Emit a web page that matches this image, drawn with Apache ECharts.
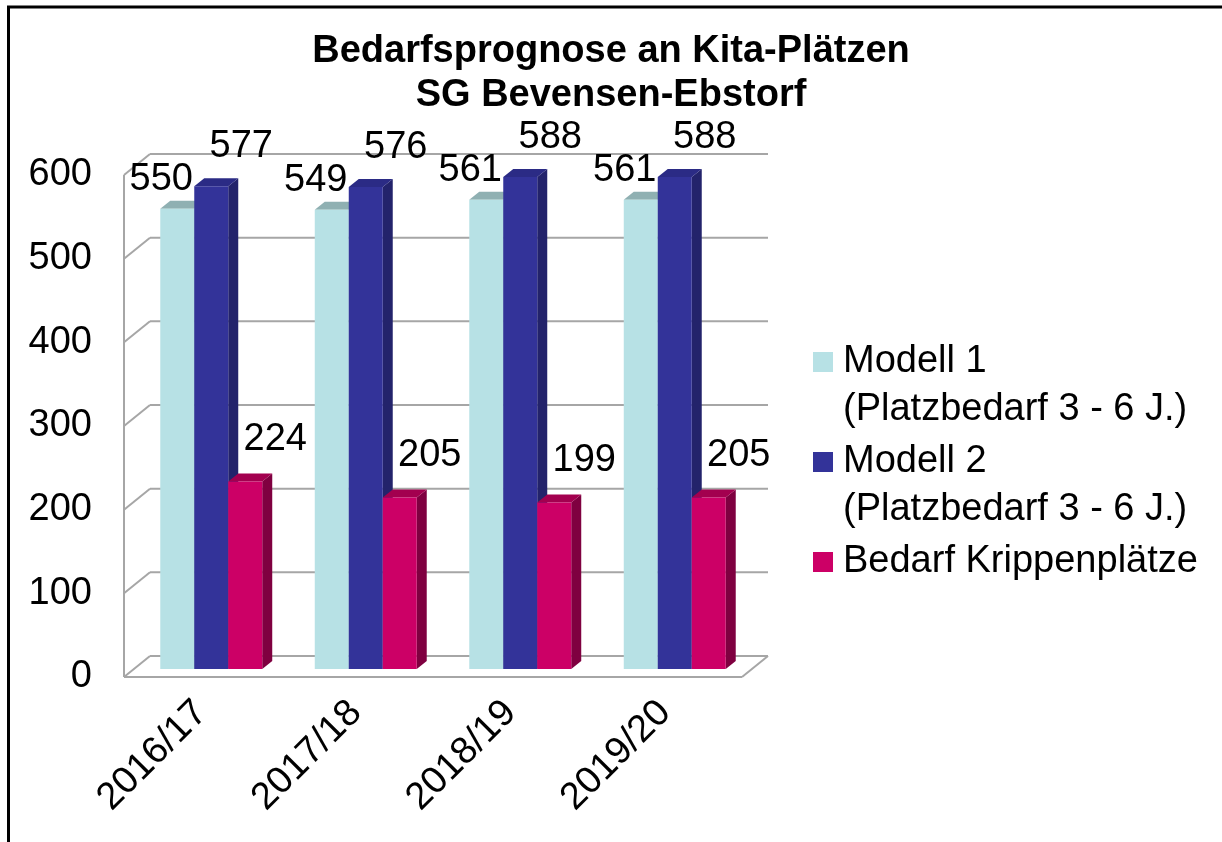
<!DOCTYPE html>
<html>
<head>
<meta charset="utf-8">
<script src="https://cdn.jsdelivr.net/npm/echarts@6/dist/echarts.min.js"></script>
<style>
html,body{margin:0;padding:0;background:#fff}
#chart{width:1222px;height:842px}
</style>
</head>
<body>
<div id="chart"></div>
<script>
var years = ['2016/17', '2017/18', '2018/19', '2019/20'];
var modell1 = [550, 549, 561, 561];
var modell2 = [577, 576, 588, 588];
var krippe = [224, 205, 199, 205];
var yTicks = [0, 100, 200, 300, 400, 500, 600];
var names = ['Modell 1\n(Platzbedarf 3 - 6 J.)', 'Modell 2\n(Platzbedarf 3 - 6 J.)', 'Bedarf Krippenplätze'];

var FONT = '"Liberation Sans", Arial, sans-serif';
// Tiefe der 3D-Box (vorne -> Rückwand) und Tiefe einer Säule
var DX = 26, DY = -21;
var BX = 10, BY = -8;

var colors = [
    {front: '#b7e1e5', top: '#8fb0b2', side: '#8fb0b2', lx: 0, ly: -29},
    {front: '#333399', top: '#2b2b85', side: '#23236b', lx: 1, ly: -40},
    {front: '#cc0066', top: '#a3004f', side: '#7f0040', lx: 1, ly: -42}
];

var chart = echarts.init(document.getElementById('chart'));

function toData(arr) {
    return arr.map(function (v, i) { return [i, v]; });
}

// Säule mit Vorderseite, Deckel und Seitenfläche
function barRender(k) {
    return function (params, api) {
        var i = api.value(0), v = api.value(1);
        var base = api.coord([i, 0]);
        var top = api.coord([i, v]);
        var bw = api.size([1, 0])[0] * 0.22;
        var x0 = base[0] - 1.5 * bw + k * bw;
        var x1 = x0 + bw;
        var c = colors[k];
        var labelX = c.lx ? x1 + 13 : x0 + 1;
        return {
            type: 'group',
            children: [
                {type: 'polygon', shape: {points: [[x1, top[1]], [x1 + BX, top[1] + BY], [x1 + BX, base[1] + BY], [x1, base[1]]]}, style: {fill: c.side}},
                {type: 'polygon', shape: {points: [[x0, top[1]], [x1, top[1]], [x1 + BX, top[1] + BY], [x0 + BX, top[1] + BY]]}, style: {fill: c.top}},
                {type: 'rect', shape: {x: x0, y: top[1], width: bw, height: base[1] - top[1]}, style: {fill: c.front}},
                {type: 'text', z2: 100, style: {text: String(v), x: labelX, y: top[1] + c.ly, align: 'center', verticalAlign: 'middle', font: '38px ' + FONT, fill: '#000'}}
            ]
        };
    };
}

// Wände und Boden
function frameRender(params, api) {
    var v = api.value(1);
    var cs = params.coordSys;
    var left = cs.x, right = cs.x + cs.width;
    var y = api.coord([0, v])[1];
    var st = {stroke: '#a6a6a6', lineWidth: 2, fill: null};
    var ch = [
        {type: 'line', shape: {x1: left + DX, y1: y + DY, x2: right + DX, y2: y + DY}, style: st},
        {type: 'line', shape: {x1: left, y1: y, x2: left + DX, y2: y + DY}, style: st}
    ];
    if (v === 0) {
        var yTop = api.coord([0, yTicks[yTicks.length - 1]])[1];
        ch.push({type: 'line', shape: {x1: left, y1: y, x2: right, y2: y}, style: st});
        ch.push({type: 'line', shape: {x1: right, y1: y, x2: right + DX, y2: y + DY}, style: st});
        ch.push({type: 'line', shape: {x1: left, y1: y, x2: left, y2: yTop}, style: st});
    }
    return {type: 'group', children: ch};
}

// Legende: Kästchen an der ersten Zeile ausgerichtet
var legendEls = [];
var ly = 362;
names.forEach(function (n, k) {
    legendEls.push({type: 'rect', shape: {x: 813, y: ly - 10, width: 20, height: 20}, style: {fill: colors[k].front}, silent: true});
    legendEls.push({type: 'text', style: {text: n, x: 843, y: ly - 24, verticalAlign: 'top', lineHeight: 48, font: '38px ' + FONT, fill: '#000'}, silent: true});
    ly += n.split('\n').length * 48 + 4;
});

var option = {
    backgroundColor: '#fff',
    animation: false,
    title: {
        text: 'Bedarfsprognose an Kita-Plätzen\nSG Bevensen-Ebstorf',
        left: 'center',
        top: 25,
        textStyle: {fontFamily: FONT, fontSize: 38, fontWeight: 'bold', color: '#000', lineHeight: 44}
    },
    grid: [
        {left: 124, right: 480, top: 175, bottom: 165},
        {left: 134, right: 470, top: 167, bottom: 173}
    ],
    xAxis: [
        {
            type: 'category', data: years, gridIndex: 0,
            axisLine: {show: false}, axisTick: {show: false},
            axisLabel: {rotate: 45, fontSize: 38, fontFamily: FONT, color: '#000', margin: 30}
        },
        {type: 'category', data: years, gridIndex: 1, show: false}
    ],
    yAxis: [
        {
            type: 'value', gridIndex: 0, min: 0, max: 600, interval: 100,
            axisLine: {show: false}, axisTick: {show: false}, splitLine: {show: false},
            axisLabel: {fontSize: 38, fontFamily: FONT, color: '#000', margin: 32}
        },
        {type: 'value', gridIndex: 1, min: 0, max: 600, interval: 100, show: false}
    ],
    graphic: [
        {type: 'rect', shape: {x: 8.5, y: 7, width: 1300, height: 900}, style: {fill: null, stroke: '#000', lineWidth: 3}, silent: true}
    ].concat(legendEls),
    series: [
        {type: 'custom', name: 'frame', xAxisIndex: 0, yAxisIndex: 0, silent: true, renderItem: frameRender, data: yTicks.map(function (v) { return [0, v]; })},
        {type: 'custom', name: names[0], xAxisIndex: 1, yAxisIndex: 1, itemStyle: {color: colors[0].front}, renderItem: barRender(0), data: toData(modell1), encode: {x: 0, y: 1}},
        {type: 'custom', name: names[1], xAxisIndex: 1, yAxisIndex: 1, itemStyle: {color: colors[1].front}, renderItem: barRender(1), data: toData(modell2), encode: {x: 0, y: 1}},
        {type: 'custom', name: names[2], xAxisIndex: 1, yAxisIndex: 1, itemStyle: {color: colors[2].front}, renderItem: barRender(2), data: toData(krippe), encode: {x: 0, y: 1}}
    ]
};

chart.setOption(option);
</script>
</body>
</html>
